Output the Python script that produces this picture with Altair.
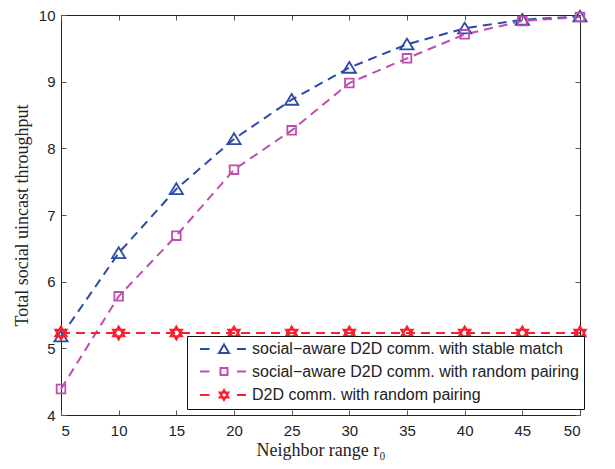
import altair as alt
import pandas as pd

# ---------------- data ----------------
x_vals = [5, 10, 15, 20, 25, 30, 35, 40, 45, 50]
stable_match = [5.18, 6.43, 7.39, 8.14, 8.73, 9.21, 9.56, 9.80, 9.93, 9.98]
social_random = [4.39, 5.78, 6.69, 7.68, 8.27, 8.98, 9.35, 9.71, 9.91, 9.97]
d2d_random = [5.23, 5.23, 5.23, 5.23, 5.23, 5.23, 5.23, 5.23, 5.23, 5.23]

series_names = [
    "social\u2212aware D2D comm. with stable match",
    "social\u2212aware D2D comm. with random pairing",
    "D2D comm. with random pairing",
]
series_values = [stable_match, social_random, d2d_random]
x_ticks = [5, 10, 15, 20, 25, 30, 35, 40, 45, 50]
y_ticks = [4, 5, 6, 7, 8, 9, 10]

# ---------------- styles ----------------
colors = ["#2b4ba6", "#bf4faf", "#f8202c"]
TRI = "M0,-0.95L1.1,0.85L-1.1,0.85Z"
SQR = "M-0.72,-0.72L0.72,-0.72L0.72,0.72L-0.72,0.72Z"
HEX = "M0,-1.1L0.95,0.55L-0.95,0.55Z M0,1.1L0.95,-0.55L-0.95,-0.55Z"
marker_paths = [TRI, SQR, HEX]
DASH = "M-4.8,0L-2.9,0 M2.6,0L4.4,0 "
LTRI = "M0,-0.9L1.0,0.8L-1.0,0.8Z"
LSQR = "M-0.7,-0.7L0.7,-0.7L0.7,0.7L-0.7,0.7Z"
LHEX = "M0,-1.0L0.87,0.5L-0.87,0.5Z M0,1.0L0.87,-0.5L-0.87,-0.5Z"
legend_paths = [DASH + LTRI, DASH + LSQR, DASH + LHEX]

rows = []
for name, vals in zip(series_names, series_values):
    for xv, yv in zip(x_vals, vals):
        rows.append({"x": xv, "y": yv, "series": name})
df = pd.DataFrame(rows)

TICK_FONT = "Liberation Sans"
TITLE_FONT = "Liberation Serif"
xscale = alt.Scale(domain=[5, 50], nice=False, zero=False)
yscale = alt.Scale(domain=[4, 10], nice=False, zero=False)

x_bottom = alt.Axis(orient="bottom", values=x_ticks, offset=-5, tickSize=5, domain=False,
                    grid=False, labelPadding=8, labelFont=TICK_FONT, labelFontSize=15,
                    labelColor="#222222", tickColor="#555555", title="Neighbor range r\u2080",
                    titleFont=TITLE_FONT, titleFontSize=18, titleFontWeight="normal",
                    titleColor="#222222", titlePadding=3)
y_left = alt.Axis(orient="left", values=y_ticks, offset=-5, tickSize=5, domain=False,
                  grid=False, labelPadding=6, labelFont=TICK_FONT, labelFontSize=15,
                  labelColor="#222222", tickColor="#555555",
                  title="Total social uincast throughput", titleFont=TITLE_FONT,
                  titleFontSize=18, titleFontWeight="normal", titleColor="#222222",
                  titlePadding=7)
x_top = alt.Axis(orient="top", values=x_ticks, offset=-5, tickSize=5, domain=False,
                 grid=False, labels=False, tickColor="#555555", title=None)
y_right = alt.Axis(orient="right", values=y_ticks, offset=-5, tickSize=5, domain=False,
                   grid=False, labels=False, tickColor="#555555", title=None)

base = alt.Chart(df)
layers = []
for i, name in enumerate(series_names):
    if i == 0:
        xa, ya = x_bottom, y_left
    elif i == 1:
        xa, ya = x_top, y_right
    else:
        xa, ya = None, None
    line = base.transform_filter(alt.datum.series == name).mark_line(
        color=colors[i], strokeDash=[9, 6], strokeWidth=2
    ).encode(
        x=alt.X("x:Q", scale=xscale, axis=xa),
        y=alt.Y("y:Q", scale=yscale, axis=ya),
    )
    layers.append(line)
for i, name in enumerate(series_names):
    pts = base.transform_filter(alt.datum.series == name).mark_point(
        shape=marker_paths[i], filled=False, color=colors[i], size=144,
        strokeWidth=2 if i == 2 else 1.8, opacity=1
    ).encode(
        x=alt.X("x:Q", scale=xscale, axis=None),
        y=alt.Y("y:Q", scale=yscale, axis=None),
    )
    layers.append(pts)

leg = alt.Legend(title=None, orient="none", legendX=126, legendY=321,
                 direction="vertical", columns=1)
legend_layer = base.transform_filter("false").mark_point(filled=False, opacity=1, strokeWidth=2).encode(
    x=alt.X("x:Q", scale=xscale, axis=None),
    y=alt.Y("y:Q", scale=yscale, axis=None),
    color=alt.Color("series:N", scale=alt.Scale(domain=series_names, range=colors), legend=leg),
    shape=alt.Shape("series:N", scale=alt.Scale(domain=series_names, range=legend_paths), legend=leg),
)
layers.append(legend_layer)

chart = alt.layer(*layers).resolve_axis(x="independent", y="independent").properties(
    width=519, height=400,
    autosize=alt.AutoSizeParams(type="none"),
    padding={"left": 53, "top": 7, "right": 20, "bottom": 46},
    background="white",
).configure_view(
    stroke="#222222", strokeWidth=1
).configure_legend(
    strokeColor="#111111", strokeWidth=1, fillColor="white", padding=5,
    symbolSize=100, symbolStrokeWidth=2, symbolOffset=24, labelOffset=20,
    labelFont=TICK_FONT, labelFontSize=16, labelColor="#222222", rowPadding=6.5,
    cornerRadius=0, labelLimit=0
)

chart.save("out.html", embed_options={"renderer": "svg", "actions": False})
